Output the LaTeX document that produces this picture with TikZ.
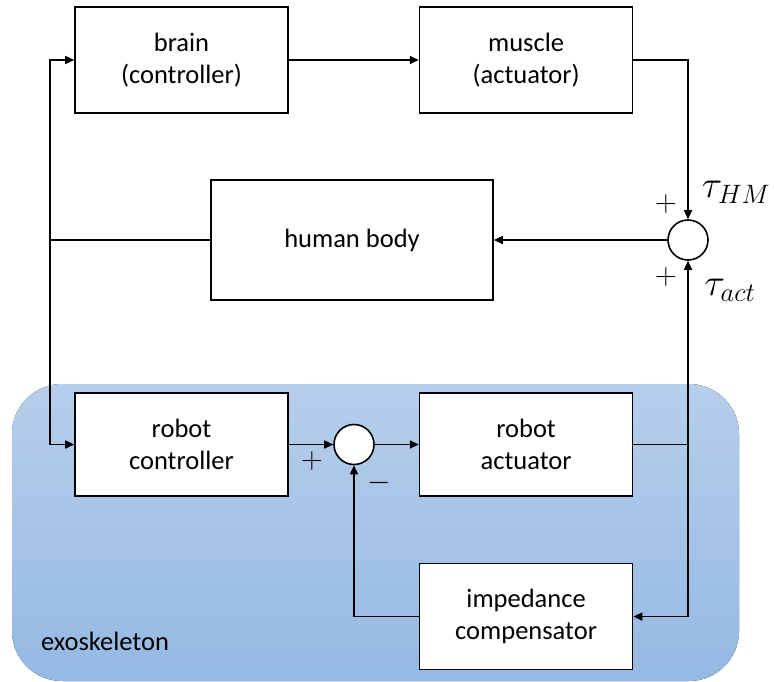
\RequirePackage{fix-cm}
\documentclass[tikz,border=0pt]{standalone}
\usepackage[no-math]{fontspec}
\setmainfont{Carlito}
\usetikzlibrary{arrows.meta,positioning,calc}
\definecolor{cLine}{HTML}{000000}
\definecolor{cExoTop}{HTML}{B6CEEB}
\definecolor{cExoBot}{HTML}{94B9E3}
\tikzset{
  blk/.style={draw=cLine, line width=1.6pt, fill=white, minimum width=213pt,
              minimum height=106pt, inner sep=2pt, align=center,
              font=\fontsize{26.5}{31.5}\selectfont},
  sumblk/.style={circle, draw=cLine, line width=1.6pt, fill=white,
                 minimum size=40pt, inner sep=0pt},
  arr/.style={-{Triangle[length=9pt,width=8pt]}, line width=1.6pt, cLine},
  ln/.style={line width=1.6pt, cLine},
  sgn/.style={inner sep=0pt, font=\fontsize{30}{30}\selectfont},
  lbl/.style={inner sep=0pt, font=\fontsize{38}{38}\selectfont}
}

\begin{document}
\begin{tikzpicture}[x=1pt, y=-1pt]
\useasboundingbox (0,0) rectangle (774,681);
% exoskeleton region (background)
\fill[top color=cExoTop, bottom color=cExoBot, rounded corners=50pt]
     (12,384) rectangle (739,681);
\node[font=\fontsize{26.5}{31.5}\selectfont] (exo) at (105,641) {exoskeleton};
% human loop
\node[blk] (brain) at (181.5,60) {brain\\(controller)};
\node[blk, right=130pt of brain] (muscle) {muscle\\(actuator)};
\node[blk, minimum width=282pt, minimum height=120pt] (body) at (352,240) {human body};
\node[sumblk] (sumH) at (688,240) {};
% robot loop
\node[blk, minimum height=103pt] (rctrl) at (181.5,444.5) {robot\\controller};
\node[sumblk] (sumR) at (354,444.5) {};
\node[blk, minimum height=103pt, right=130pt of rctrl] (ract) {robot\\actuator};
\node[blk, below=66pt of ract] (imp) {impedance\\compensator};
% signs and torques
\node[sgn] (pHM) at (666,204) {$+$};
\node[sgn] (pAct) at (666,277) {$+$};
\node[lbl] (tHM) at (736,192) {$\tau_{HM}$};
\node[lbl] (tAct) at (730,290) {$\tau_{act}$};
\node[sgn] (pR) at (312,461) {$+$};
\node[sgn] (mR) at (379,483) {$-$};
% connectors
\coordinate (fb) at (50,240);
\coordinate (tap) at (ract.east -| sumH);
\draw[ln] (body.west) -- (fb);
\draw[arr] (fb) |- (brain.west);
\draw[arr] (fb) |- (rctrl.west);
\draw[arr] (brain) -- (muscle);
\draw[arr] (muscle.east) -| (sumH.north);
\draw[arr] (sumH) -- (body);
\draw[ln] (ract.east) -- (tap);
\draw[arr] (tap) -- (sumH.south);
\draw[arr] (tap) |- (imp.east);
\draw[arr] (imp.west) -| (sumR.south);
\draw[arr] (rctrl) -- (sumR);
\draw[arr] (sumR) -- (ract);
\end{tikzpicture}
\end{document}
